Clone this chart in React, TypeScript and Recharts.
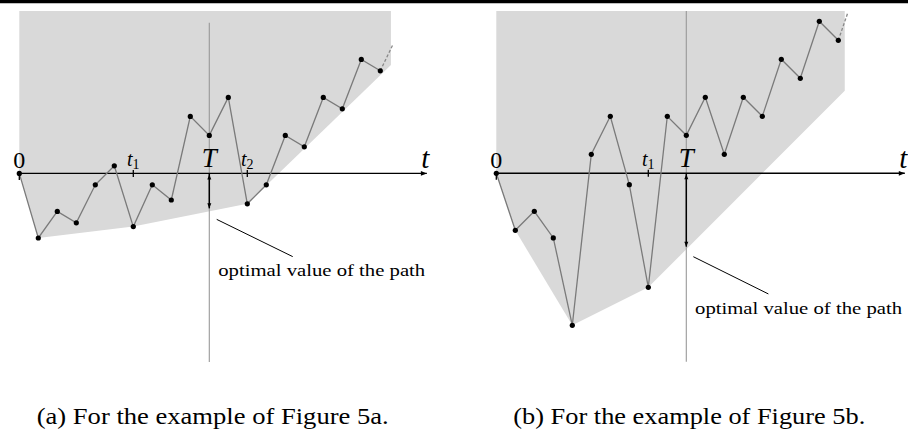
import React from 'react';
import { ComposedChart, Area, Line, Scatter, XAxis, YAxis } from 'recharts';

// one step of the walk is 19px in the figure, the value axis uses the same unit
const UNIT = 19;
const W = 454;
const H = 433;
const T_STEP = 10;
const SERIF = '"Liberation Serif", "DejaVu Serif", serif';

// (a) walk values at t = 0..19, dashed continuation, lower hull of the shaded set
const PATH_A = [0, -3.4, -2, -2.6, -0.6, 0.4, -2.8, -0.6, -1.4, 3, 2, 4, -1.6, -0.6, 2, 1.4, 4, 3.4, 6, 5.4];
const TAIL_T_A = [19, 19.65];
const TAIL_V_A = [5.4, 6.75];
const HULL_T_A = [0, 1, 6, 12, 19.56];
const HULL_LOW_A = [0, -3.4, -2.8, -1.6, 5.71];
const HULL_TOP_A = 8.55;
const TICKS_A = [6, 12];
const TICK_NAMES_A = ['1', '2'];
const OPTIMAL_A = -1.84;

// (b)
const PATH_B = [0, -3, -2, -3.4, -8, 1, 3, -0.6, -6, 3, 2, 4, 1, 4, 3, 6, 5, 8, 7];
const TAIL_T_B = [18, 18.5];
const TAIL_V_B = [7, 8.45];
const HULL_T_B = [0, 1, 4, 8, 18.34];
const HULL_LOW_B = [0, -3, -8, -6, 4.34];
const HULL_TOP_B = 8.54;
const TICKS_B = [8];
const TICK_NAMES_B = ['1'];
const OPTIMAL_B = -3.86;

const NOTE = 'optimal value of the path';
const CAPTIONS = ['(a) For the example of Figure 5a.', '(b) For the example of Figure 5b.'];

type Spec = {
  path: number[];
  tailT: number[];
  tailV: number[];
  hullT: number[];
  hullLow: number[];
  hullTop: number;
  ticks: number[];
  tickNames: string[];
  optimal: number;
  // layout
  left: number;
  originX: number;
  originY: number;
  axisEnd: number;
  tLine: [number, number];
  pointer: [number, number, number, number];
  note: [number, number];
};

const PANELS: Spec[] = [
  {
    path: PATH_A, tailT: TAIL_T_A, tailV: TAIL_V_A,
    hullT: HULL_T_A, hullLow: HULL_LOW_A, hullTop: HULL_TOP_A,
    ticks: TICKS_A, tickNames: TICK_NAMES_A, optimal: OPTIMAL_A,
    left: 0, originX: 19.3, originY: 173.4, axisEnd: 21.45,
    tLine: [7.93, -9.93], pointer: [10.39, -2.42, 14.39, -4.38], note: [10.47, -5.4],
  },
  {
    path: PATH_B, tailT: TAIL_T_B, tailV: TAIL_V_B,
    hullT: HULL_T_B, hullLow: HULL_LOW_B, hullTop: HULL_TOP_B,
    ticks: TICKS_B, tickNames: TICK_NAMES_B, optimal: OPTIMAL_B,
    left: 454, originX: 42.3, originY: 173.3, axisEnd: 21.5,
    tLine: [8.54, -9.92], pointer: [10.37, -4.39, 14.32, -6.35], note: [10.46, -7.43],
  },
];

const renderMark = (props: any) => {
  const { cx, cy, payload } = props;
  switch (payload.kind) {
    case 'right':
      return <path d={`M${cx},${cy}L${cx - 6},${cy - 2.4}L${cx - 6},${cy + 2.4}Z`} fill="#000" />;
    case 'up':
      return <path d={`M${cx},${cy + 1}L${cx - 2},${cy + 6}L${cx + 2},${cy + 6}Z`} fill="#000" />;
    case 'down':
      return <path d={`M${cx},${cy}L${cx - 2},${cy - 5}L${cx + 2},${cy - 5}Z`} fill="#000" />;
    case 'tick0':
      return <line x1={cx} x2={cx} y1={cy - 1} y2={cy + 6.5} stroke="#000" strokeWidth={1.3} />;
    default:
      return <line x1={cx} x2={cx} y1={cy - 3.5} y2={cy + 3.5} stroke="#000" strokeWidth={1.3} />;
  }
};

const renderLabel = (props: any) => {
  const { cx, cy, payload } = props;
  const base = { fontFamily: SERIF, fill: '#000' };
  switch (payload.kind) {
    case 'zero':
      return <text {...base} x={cx} y={cy - 5.5} textAnchor="middle" fontSize={24}>0</text>;
    case 'T':
      return <text {...base} x={cx} y={cy - 6} textAnchor="middle" fontSize={27} fontStyle="italic">T</text>;
    case 'axis':
      return <text {...base} x={cx} y={cy - 5.5} textAnchor="middle" fontSize={29} fontStyle="italic">t</text>;
    case 'note':
      return (
        <text {...base} x={cx} y={cy} fontSize={17} textLength={207} lengthAdjust="spacingAndGlyphs">
          {payload.text}
        </text>
      );
    default:
      return (
        <text {...base} x={cx} y={cy - 7} textAnchor="middle" fontSize={20} fontStyle="italic">
          t<tspan fontStyle="normal" fontSize={14} dy={3}>{payload.text}</tspan>
        </text>
      );
  }
};

function Panel({ p }: { p: Spec }) {
  const xDomain = [-p.originX / UNIT, (W - p.originX) / UNIT];
  const yDomain = [(p.originY - H) / UNIT, p.originY / UNIT];

  const pathData = p.path.map((v, i) => ({ t: i, v }));
  const tailData = p.tailT.map((t, i) => ({ t, v: p.tailV[i] }));
  const hullData = p.hullT.map((t, i) => ({ t, band: [p.hullLow[i], p.hullTop] }));
  const axisData = [{ t: 0, v: 0 }, { t: p.axisEnd, v: 0 }];
  const tLineData = [{ t: T_STEP, v: p.tLine[0] }, { t: T_STEP, v: p.tLine[1] }];
  const shaftData = [{ t: T_STEP, v: 0 }, { t: T_STEP, v: p.optimal }];
  const pointerData = [{ t: p.pointer[0], v: p.pointer[1] }, { t: p.pointer[2], v: p.pointer[3] }];

  const marks = [
    { t: p.axisEnd, v: 0, kind: 'right' },
    { t: T_STEP, v: 0, kind: 'up' },
    { t: T_STEP, v: p.optimal, kind: 'down' },
    { t: 0, v: 0, kind: 'tick0' },
    ...p.ticks.map((t) => ({ t, v: 0, kind: 'tick' })),
  ];
  const labels = [
    { t: 0, v: 0, kind: 'zero', text: '0' },
    { t: T_STEP, v: 0, kind: 'T', text: 'T' },
    { t: p.axisEnd - 0.08, v: 0, kind: 'axis', text: 't' },
    { t: p.note[0], v: p.note[1], kind: 'note', text: NOTE },
    ...p.ticks.map((t, i) => ({ t, v: 0, kind: 'sub', text: p.tickNames[i] })),
  ];

  return (
    <div style={{ position: 'absolute', left: p.left, top: 0 }}>
      <ComposedChart width={W} height={H} margin={{ top: 0, right: 0, bottom: 0, left: 0 }}>
        <XAxis type="number" dataKey="t" domain={xDomain} allowDataOverflow hide />
        <YAxis type="number" domain={yDomain} allowDataOverflow hide />
        <Area
          data={hullData}
          dataKey="band"
          type="linear"
          fill="#d9d9d9"
          fillOpacity={1}
          stroke="none"
          dot={false}
          activeDot={false}
          isAnimationActive={false}
        />
        <Line data={tLineData} dataKey="v" stroke="#999" strokeWidth={1.1} dot={false} activeDot={false} isAnimationActive={false} />
        <Line data={axisData} dataKey="v" stroke="#000" strokeWidth={1.4} dot={false} activeDot={false} isAnimationActive={false} />
        <Line data={shaftData} dataKey="v" stroke="#000" strokeWidth={1.5} dot={false} activeDot={false} isAnimationActive={false} />
        <Line data={pointerData} dataKey="v" stroke="#000" strokeWidth={1} dot={false} activeDot={false} isAnimationActive={false} />
        <Scatter data={marks} dataKey="v" shape={renderMark} isAnimationActive={false} />
        <Line
          data={tailData}
          dataKey="v"
          stroke="#888"
          strokeWidth={1.3}
          strokeDasharray="3 2"
          dot={false}
          activeDot={false}
          isAnimationActive={false}
        />
        <Line
          data={pathData}
          dataKey="v"
          stroke="#7a7a7a"
          strokeWidth={1.3}
          dot={{ r: 2.6, fill: '#000', stroke: '#000', strokeWidth: 0 }}
          activeDot={false}
          isAnimationActive={false}
        />
        <Scatter data={labels} dataKey="v" shape={renderLabel} isAnimationActive={false} />
      </ComposedChart>
    </div>
  );
}

export default function App() {
  return (
    <div style={{ position: 'absolute', left: 0, top: 0, width: 908, height: 433, background: '#fff', overflow: 'hidden' }}>
      {PANELS.map((p, i) => (
        <Panel key={i} p={p} />
      ))}
      <svg width={908} height={433} style={{ position: 'absolute', left: 0, top: 0, pointerEvents: 'none' }}>
        <line x1={0} x2={908} y1={1.6} y2={1.6} stroke="#000" strokeWidth={3.2} />
        <text x={36.7} y={424} fontFamily={SERIF} fontSize={23} textLength={352} lengthAdjust="spacingAndGlyphs">
          {CAPTIONS[0]}
        </text>
        <text x={513.3} y={424} fontFamily={SERIF} fontSize={23} textLength={352} lengthAdjust="spacingAndGlyphs">
          {CAPTIONS[1]}
        </text>
      </svg>
    </div>
  );
}
